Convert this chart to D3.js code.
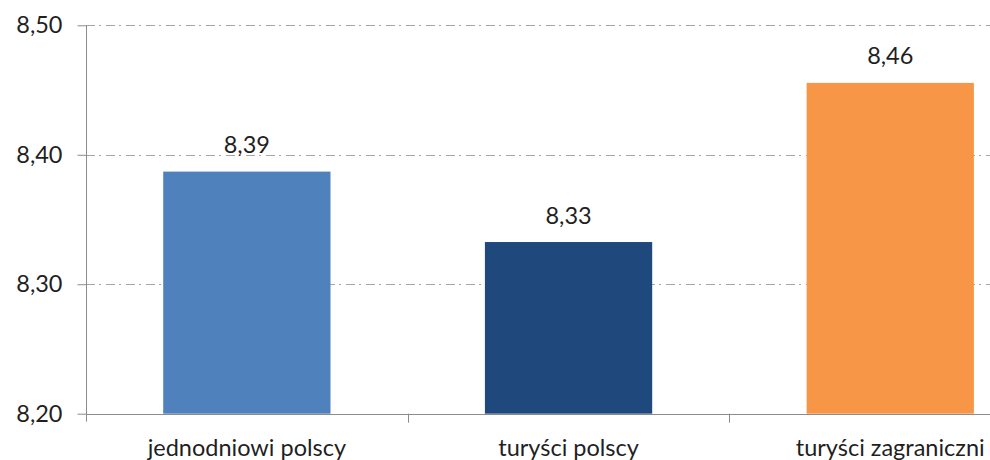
<!DOCTYPE html>
<html>
<head>
<meta charset="utf-8">
<script src="https://cdn.jsdelivr.net/npm/d3@7"></script>
<style>
  html, body { margin: 0; padding: 0; background: #fff; }
  svg { display: block; }
</style>
</head>
<body>
<svg id="chart" width="990" height="460"></svg>
<script>
const categories = ["jednodniowi polscy", "turyści polscy", "turyści zagraniczni"];
const values = [8.387, 8.3326, 8.4555];
const colors = ["#4F81BD", "#1F497D", "#F79646"];
const yTicks = [8.20, 8.30, 8.40, 8.50];

(function () {
const W = 990, H = 460;
const plotLeft = 86, plotTop = 25.3, plotBottom = 413.7;
const step = 321.7;

const loc = d3.formatLocale({decimal: ",", thousands: " ", grouping: [3], currency: ["", " zł"]});
const fmt = loc.format(".2f");

const svg = d3.select("#chart");
const font = "Lato, 'Open Sans', sans-serif";
const fs = 23.5;

const x = d3.scaleBand().domain(categories).range([plotLeft, plotLeft + step * 3]).paddingInner(0.48).paddingOuter(0.24);
const y = d3.scaleLinear().domain([8.2, 8.5]).range([plotBottom, plotTop]);

// gridlines
svg.append("g").selectAll("line").data(yTicks.filter(t => t > 8.2)).join("line")
  .attr("x1", plotLeft).attr("x2", W)
  .attr("y1", d => Math.round(y(d)) + 0.5).attr("y2", d => Math.round(y(d)) + 0.5)
  .attr("stroke", "#a6a6a6").attr("stroke-width", 1)
  .attr("stroke-dasharray", "9,4,2,5");

// bars
svg.append("g").selectAll("rect").data(categories).join("rect")
  .attr("x", d => x(d))
  .attr("width", x.bandwidth())
  .attr("y", (d, i) => y(values[i]))
  .attr("height", (d, i) => plotBottom - y(values[i]))
  .attr("fill", (d, i) => colors[i]);

// value labels
svg.append("g").selectAll("text").data(categories).join("text")
  .attr("x", d => x(d) + x.bandwidth() / 2)
  .attr("y", (d, i) => y(values[i]) - 18.5)
  .attr("text-anchor", "middle")
  .attr("font-family", font).attr("font-size", fs)
  .attr("fill", "#1f1f1f")
  .text((d, i) => fmt(values[i]));

// y axis
const yAxis = d3.axisLeft(y).tickValues(yTicks).tickFormat(fmt).tickSize(9).tickPadding(15);
const gy = svg.append("g").attr("transform", `translate(${plotLeft + 0.5},0)`).call(yAxis);
gy.select(".domain").attr("d", `M0,${plotTop}V${plotBottom + 8}`).attr("stroke", "#8c8c8c");
gy.selectAll(".tick line").attr("stroke", "#8c8c8c");
gy.selectAll(".tick text").attr("font-family", font).attr("font-size", fs).attr("fill", "#1f1f1f");

// x axis
const xTickPos = d3.scaleLinear().domain([0, 3]).range([plotLeft, plotLeft + step * 3]);
svg.append("line").attr("x1", plotLeft).attr("x2", W)
  .attr("y1", Math.round(plotBottom) + 0.5).attr("y2", Math.round(plotBottom) + 0.5)
  .attr("stroke", "#8c8c8c");
svg.append("g").selectAll("line").data([1, 2]).join("line")
  .attr("x1", d => Math.round(xTickPos(d)) + 0.5).attr("x2", d => Math.round(xTickPos(d)) + 0.5)
  .attr("y1", plotBottom).attr("y2", plotBottom + 9)
  .attr("stroke", "#8c8c8c");

svg.append("g").selectAll("text").data(categories).join("text")
  .attr("x", d => x(d) + x.bandwidth() / 2)
  .attr("y", 456)
  .attr("text-anchor", "middle")
  .attr("font-family", font).attr("font-size", fs)
  .attr("fill", "#1f1f1f")
  .text(d => d);
})();
</script>
</body>
</html>
